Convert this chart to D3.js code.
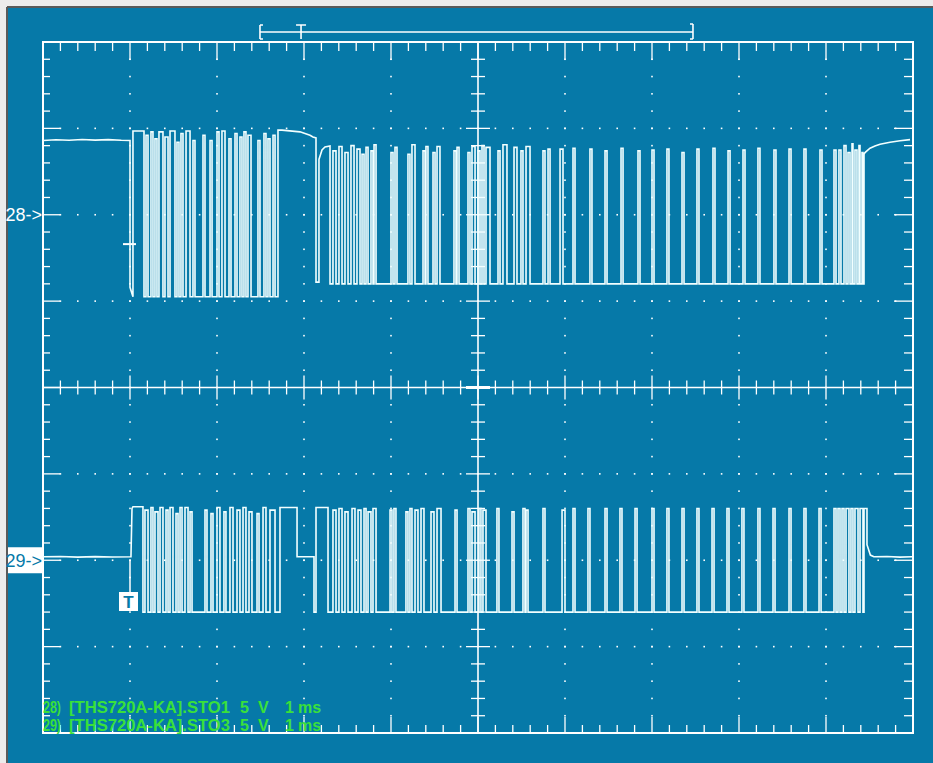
<!DOCTYPE html>
<html><head><meta charset="utf-8">
<script src="https://cdn.jsdelivr.net/npm/d3@7"></script>
<style>html,body{margin:0;padding:0;background:#fff;}svg{display:block;}</style>
</head><body>
<script>
// ---------------- DATA (time in ms relative to trigger, values in volts) ----------------
const timeDomain = [-1, 9];          // 10 div x 1 ms/div
const voltDomain = [-20, 20];        // 8 div x 5 V/div
const channelNames = ["28", "29"];
const channelOffsets = [10, -10];    // screen offset (V) of each channel's zero marker
const recordWindow = [1.494, 1.966, 6.471]; // overview bracket: start, trigger, end (ms on screen scale)
const infoLines = [
  ["28)", "[THS720A-KA].STO1", "5", "V", "1", "ms"],
  ["29)", "[THS720A-KA].STO3", "5", "V", "1", "ms"]
];

// ---- channel 28 ----
const ch28Pre = [[-1.0,4.30],[-0.85,4.34],[-0.7,4.31],[-0.55,4.36],[-0.4,4.32],[-0.25,4.35],[-0.1,4.31],[0.0,4.30],[0.0,-4.2]];
const ch28Levels1 = [4.8, -4.75];
const ch28Pulses1 = [[0.034,0.161,4.85],[0.184,0.207,4.6],[0.241,0.264,4.8],[0.287,0.310,4.4],[0.333,0.379,4.8],
  [0.402,0.437,4.5],[0.460,0.517,4.85],[0.540,0.563,4.2],[0.586,0.609,4.7],[0.644,0.690,4.85],[0.724,0.747,4.3],
  [0.839,0.862,4.6],[0.920,0.943,4.3],[1.000,1.023,4.8],[1.057,1.092,4.85],[1.138,1.161,4.4],[1.207,1.230,4.7],
  [1.264,1.287,4.5],[1.310,1.333,4.8],[1.356,1.391,4.6],[1.471,1.494,4.3],[1.540,1.563,4.7],[1.586,1.609,4.4],
  [1.644,1.667,4.6]];
const ch28Plateau = [[1.701,-4.75],[1.701,4.9],[1.747,4.9],[1.954,4.8],[2.069,4.6],[2.103,4.5],[2.138,4.45],[2.138,-3.9],
  [2.172,-3.9],[2.172,3.2],[2.207,3.75],[2.241,3.92],[2.299,3.98],[2.299,-4.0]];
const ch28Levels2 = [3.9, -4.0];
const ch28Pulses2 = [[2.333,2.368,3.7],[2.402,2.437,3.95],[2.471,2.506,3.6],[2.540,2.575,4.0],[2.609,2.644,3.8],
  [2.667,2.690,3.5],[2.713,2.736,3.9],[2.770,2.793,3.7],[2.805,2.828,4.05],[3.000,3.023,3.6],[3.046,3.069,3.9],
  [3.195,3.218,3.5],[3.241,3.276,4.05],[3.368,3.391,3.7],[3.402,3.425,3.95],[3.483,3.506,3.6],[3.529,3.563,3.95],
  [3.724,3.747,3.7],[3.759,3.782,3.9],[3.885,3.908,3.6],[3.931,3.966,3.95],[4.000,4.023,3.7],[4.046,4.069,4.0],
  [4.092,4.138,3.9],[4.230,4.253,3.7],[4.287,4.333,4.05],[4.414,4.448,3.9],[4.494,4.517,3.7],[4.552,4.598,3.95],
  [4.747,4.770,3.7],[4.805,4.828,3.8],[4.943,4.977,3.8],[5.092,5.115,3.85]];
const ch28Spikes = [[5.287,5.310,3.8],[5.460,5.483,3.7],[5.644,5.667,3.85],[5.839,5.862,3.7],[6.000,6.023,3.75],
  [6.172,6.195,3.8],[6.345,6.368,3.6],[6.517,6.540,3.8],[6.701,6.724,3.85],[6.874,6.897,3.7],[7.046,7.069,3.75],
  [7.218,7.241,3.85],[7.402,7.425,3.75],[7.575,7.598,3.8],[7.747,7.770,3.8],[7.931,7.954,3.75],
  [8.092,8.115,3.75],[8.149,8.172,3.75],[8.207,8.230,4.0],[8.253,8.276,3.6],[8.299,8.310,4.1],[8.333,8.356,3.75],
  [8.379,8.391,4.0],[8.414,8.425,3.6]];
const ch28Tail = [[8.437,-4.0],[8.437,3.5],[8.448,3.6],[8.506,3.85],[8.563,3.98],[8.621,4.08],[8.736,4.2],[8.851,4.28],[8.966,4.35]];

// ---- channel 29 ----
const ch29Pre = [[-1.0,0.20],[-0.8,0.22],[-0.6,0.18],[-0.4,0.21],[-0.2,0.19],[0.011,0.20],[0.023,3.0],[0.034,3.1],[0.149,3.1],[0.149,-3.0]];
const ch29Levels1 = [3.05, -3.0];
const ch29Pulses1 = [[0.172,0.207,2.9],[0.241,0.264],[0.287,0.322,2.8],[0.345,0.379],[0.414,0.437,2.9],[0.460,0.494],
  [0.529,0.552,2.7],[0.575,0.598],[0.632,0.667],[0.690,0.713,2.8],[0.862,0.885,2.9],[0.931,0.954,2.7],[1.000,1.034],
  [1.080,1.103,2.8],[1.149,1.184],[1.230,1.264,2.9],[1.299,1.333],[1.368,1.402,2.8],[1.460,1.483,2.7],[1.529,1.563],
  [1.609,1.667,2.9]];
const ch29Plateau = [[1.724,-3.0],[1.724,3.05],[1.920,3.05],[1.920,0.2],[2.115,0.2],[2.115,-3.0],[2.138,-3.0],
  [2.138,3.05],[2.276,3.05],[2.276,-3.0]];
const ch29Levels2 = [3.0, -3.0];
const ch29Pulses2 = [[2.333,2.368,2.9],[2.402,2.437],[2.471,2.506,2.8],[2.552,2.586],[2.621,2.655,2.9],[2.690,2.713],
  [2.736,2.770,2.8],[2.793,2.828],[2.989,3.011,2.9],[3.034,3.057],[3.172,3.195,2.8],[3.218,3.241],[3.276,3.310,2.9],
  [3.345,3.379],[3.460,3.494,2.8],[3.529,3.575],[3.736,3.759,2.9],[3.885,3.908],[3.931,3.966,2.8],[4.011,4.034],
  [4.057,4.092,2.9],[4.218,4.241],[4.391,4.414,2.8],[4.517,4.540],[4.552,4.575,2.9],[4.747,4.770],[4.966,5.000,2.9],
  [5.092,5.115]];
const ch29Spikes = [[5.264,5.287],[5.460,5.483],[5.632,5.655],[5.805,5.828],[6.000,6.023],[6.172,6.195],[6.345,6.368],
  [6.517,6.540],[6.690,6.713],[6.862,6.885],[7.034,7.057],[7.218,7.241],[7.391,7.414],[7.575,7.598],[7.747,7.770],
  [7.920,7.943],[8.092,8.115],[8.138,8.161],[8.184,8.207],[8.230,8.264],[8.287,8.310],[8.333,8.368],[8.391,8.425]];
const ch29Tail = [[8.437,-3.0],[8.437,3.0],[8.471,3.0],[8.471,0.9],[8.51,0.3],[8.55,0.2],[8.7,0.22],[8.85,0.18],[8.989,0.20]];

// ---------------- LAYOUT ----------------
const W = 933, H = 763;
const L = 43, R = 913, T = 42, B = 733;
const BG = "#0679a8", FG = "#ffffff", TRACE = "#f2ffff", GREEN = "#3ae03a";

const svg = d3.select("body").append("svg").attr("width", W).attr("height", H);
svg.append("rect").attr("width", W).attr("height", H).attr("fill", "#ececec");
svg.append("rect").attr("x", 8).attr("y", 8).attr("width", W - 8).attr("height", H - 8).attr("fill", BG);
svg.append("line").attr("x1", 7).attr("x2", 7).attr("y1", 7).attr("y2", H).attr("stroke", "#5a5a5a").attr("stroke-width", 2);
svg.append("line").attr("x1", 7).attr("x2", W).attr("y1", 7).attr("y2", 7).attr("stroke", "#5a5a5a").attr("stroke-width", 2);

const x = d3.scaleLinear().domain(timeDomain).range([L, R]);
const y = d3.scaleLinear().domain(voltDomain).range([B, T]);

const majorT = d3.range(timeDomain[0], timeDomain[1] + 0.001, 1);
const minorT = d3.range(0, 51).map(i => timeDomain[0] + i * 0.2);
const majorV = d3.range(voltDomain[0], voltDomain[1] + 0.001, 5);
const minorV = d3.range(0, 41).map(i => voltDomain[0] + i);
const cT = (timeDomain[0] + timeDomain[1]) / 2, cV = 0;
const isMajor = (v, step) => Math.abs(v / step - Math.round(v / step)) < 1e-6;

const g = svg.append("g");
// dots on graticule
majorT.filter(t => t > timeDomain[0] && t < timeDomain[1] && t !== cT).forEach(t => {
  minorV.forEach(v => g.append("rect").attr("x", x(t) - 0.8).attr("y", y(v) - 0.8).attr("width", 1.6).attr("height", 1.6).attr("fill", FG));
});
majorV.filter(v => v > voltDomain[0] && v < voltDomain[1] && v !== cV).forEach(v => {
  minorT.forEach(t => g.append("rect").attr("x", x(t) - 0.8).attr("y", y(v) - 0.8).attr("width", 1.6).attr("height", 1.6).attr("fill", FG));
});
// center axes
const ln = (x1, y1, x2, y2, w) => g.append("line").attr("x1", x1).attr("y1", y1).attr("x2", x2).attr("y2", y2)
  .attr("stroke", FG).attr("stroke-width", w || 1.5);
ln(x(cT), T, x(cT), B, 1.6);
ln(L, y(cV), R, y(cV), 1.6);
minorT.forEach(t => { const h = isMajor(t, 1) ? 12 : 7; ln(x(t), y(cV) - h, x(t), y(cV) + h, 1.3); });
minorV.forEach(v => { const h = isMajor(v, 5) ? 12 : 7; ln(x(cT) - h, y(v), x(cT) + h, y(v), 1.3); });
ln(x(cT) - 12, y(cV), x(cT) + 12, y(cV), 3);
// edge ticks
minorT.forEach(t => {
  const m = isMajor(t, 1);
  ln(x(t), T, x(t), T + (m ? 18 : 9), 1.3);
  ln(x(t), B, x(t), B - (m ? 16 : 8), 1.3);
});
minorV.forEach(v => {
  const m = isMajor(v, 5);
  ln(L, y(v), L + (m ? 17 : 7), y(v), 1.3);
  ln(R, y(v), R - (m ? 19 : 9), y(v), 1.3);
});
// frame
g.append("rect").attr("x", L).attr("y", T).attr("width", R - L).attr("height", B - T)
  .attr("fill", "none").attr("stroke", FG).attr("stroke-width", 2);

// record overview bracket at top
const bl = x(recordWindow[0]), bt = x(recordWindow[1]), br = x(recordWindow[2]);
ln(bl, 32, br, 32, 1.5);
ln(bl, 25, bl, 39, 1.6); ln(bl, 25, bl + 3, 25, 1.5); ln(bl, 39, bl + 3, 39, 1.5);
ln(br, 24, br, 39, 1.6); ln(br - 3, 24, br, 24, 1.5); ln(br - 3, 39, br, 39, 1.5);
ln(bt, 25, bt, 39, 1.6); ln(bt - 5, 25, bt + 5, 25, 1.5);

// ---------------- TRACES ----------------
function addPulses(pts, pulses, levels) {
  pulses.forEach(p => {
    const h = p.length > 2 ? p[2] : levels[0];
    pts.push([p[0], levels[1]], [p[0], h], [p[1], h], [p[1], levels[1]]);
  });
}
const t28 = [...ch28Pre];
addPulses(t28, ch28Pulses1, ch28Levels1);
t28.push(...ch28Plateau);
addPulses(t28, ch28Pulses2, ch28Levels2);
addPulses(t28, ch28Spikes, ch28Levels2);
t28.push(...ch28Tail);

const t29 = [...ch29Pre];
addPulses(t29, ch29Pulses1, ch29Levels1);
t29.push(...ch29Plateau);
addPulses(t29, ch29Pulses2, ch29Levels2);
addPulses(t29, ch29Spikes, ch29Levels2);
t29.push(...ch29Tail);

[t28, t29].forEach((pts, i) => {
  const off = channelOffsets[i];
  const line = d3.line().x(d => x(d[0])).y(d => y(d[1] + off));
  svg.append("path").attr("d", line(pts)).attr("fill", "none").attr("stroke", TRACE)
    .attr("stroke-width", 1.6).attr("stroke-linejoin", "miter");
});

// trigger markers
ln(x(0) - 7, y(channelOffsets[0] - 1.7), x(0) + 6, y(channelOffsets[0] - 1.7), 2);
ln(x(0), y(channelOffsets[1]), x(0), 592, 1.5);
svg.append("rect").attr("x", 119).attr("y", 592).attr("width", 19).attr("height", 19).attr("fill", FG);
svg.append("text").attr("x", 128.5).attr("y", 608).attr("text-anchor", "middle")
  .attr("font-family", "Liberation Sans, Arial, sans-serif").attr("font-size", 17).attr("font-weight", "bold")
  .attr("fill", BG).text("T");

// channel markers
const y28 = y(channelOffsets[0]), y29 = y(channelOffsets[1]);
svg.append("text").attr("x", 42).attr("y", y28 + 6.5).attr("text-anchor", "end")
  .attr("font-family", "Liberation Sans, Arial, sans-serif").attr("font-size", 18).attr("fill", FG)
  .text(channelNames[0] + "->");
svg.append("rect").attr("x", 8).attr("y", y29 - 13).attr("width", 34).attr("height", 26).attr("fill", FG);
svg.append("text").attr("x", 42).attr("y", y29 + 6.5).attr("text-anchor", "end")
  .attr("font-family", "Liberation Sans, Arial, sans-serif").attr("font-size", 18).attr("fill", BG)
  .text(channelNames[1] + "->");

// info text
const infoX = [43, 69, 240, 258, 285, 298];
const infoW = [18, 161, null, null, null, null];
infoLines.forEach((parts, i) => {
  parts.forEach((s, j) => {
    const t = svg.append("text").attr("x", infoX[j]).attr("y", 713 + i * 18)
      .attr("font-family", "Liberation Sans, Arial, sans-serif").attr("font-size", 16).attr("font-weight", "bold")
      .attr("fill", GREEN).text(s);
    if (infoW[j]) t.attr("textLength", infoW[j]).attr("lengthAdjust", "spacingAndGlyphs");
  });
});
</script>
</body></html>
